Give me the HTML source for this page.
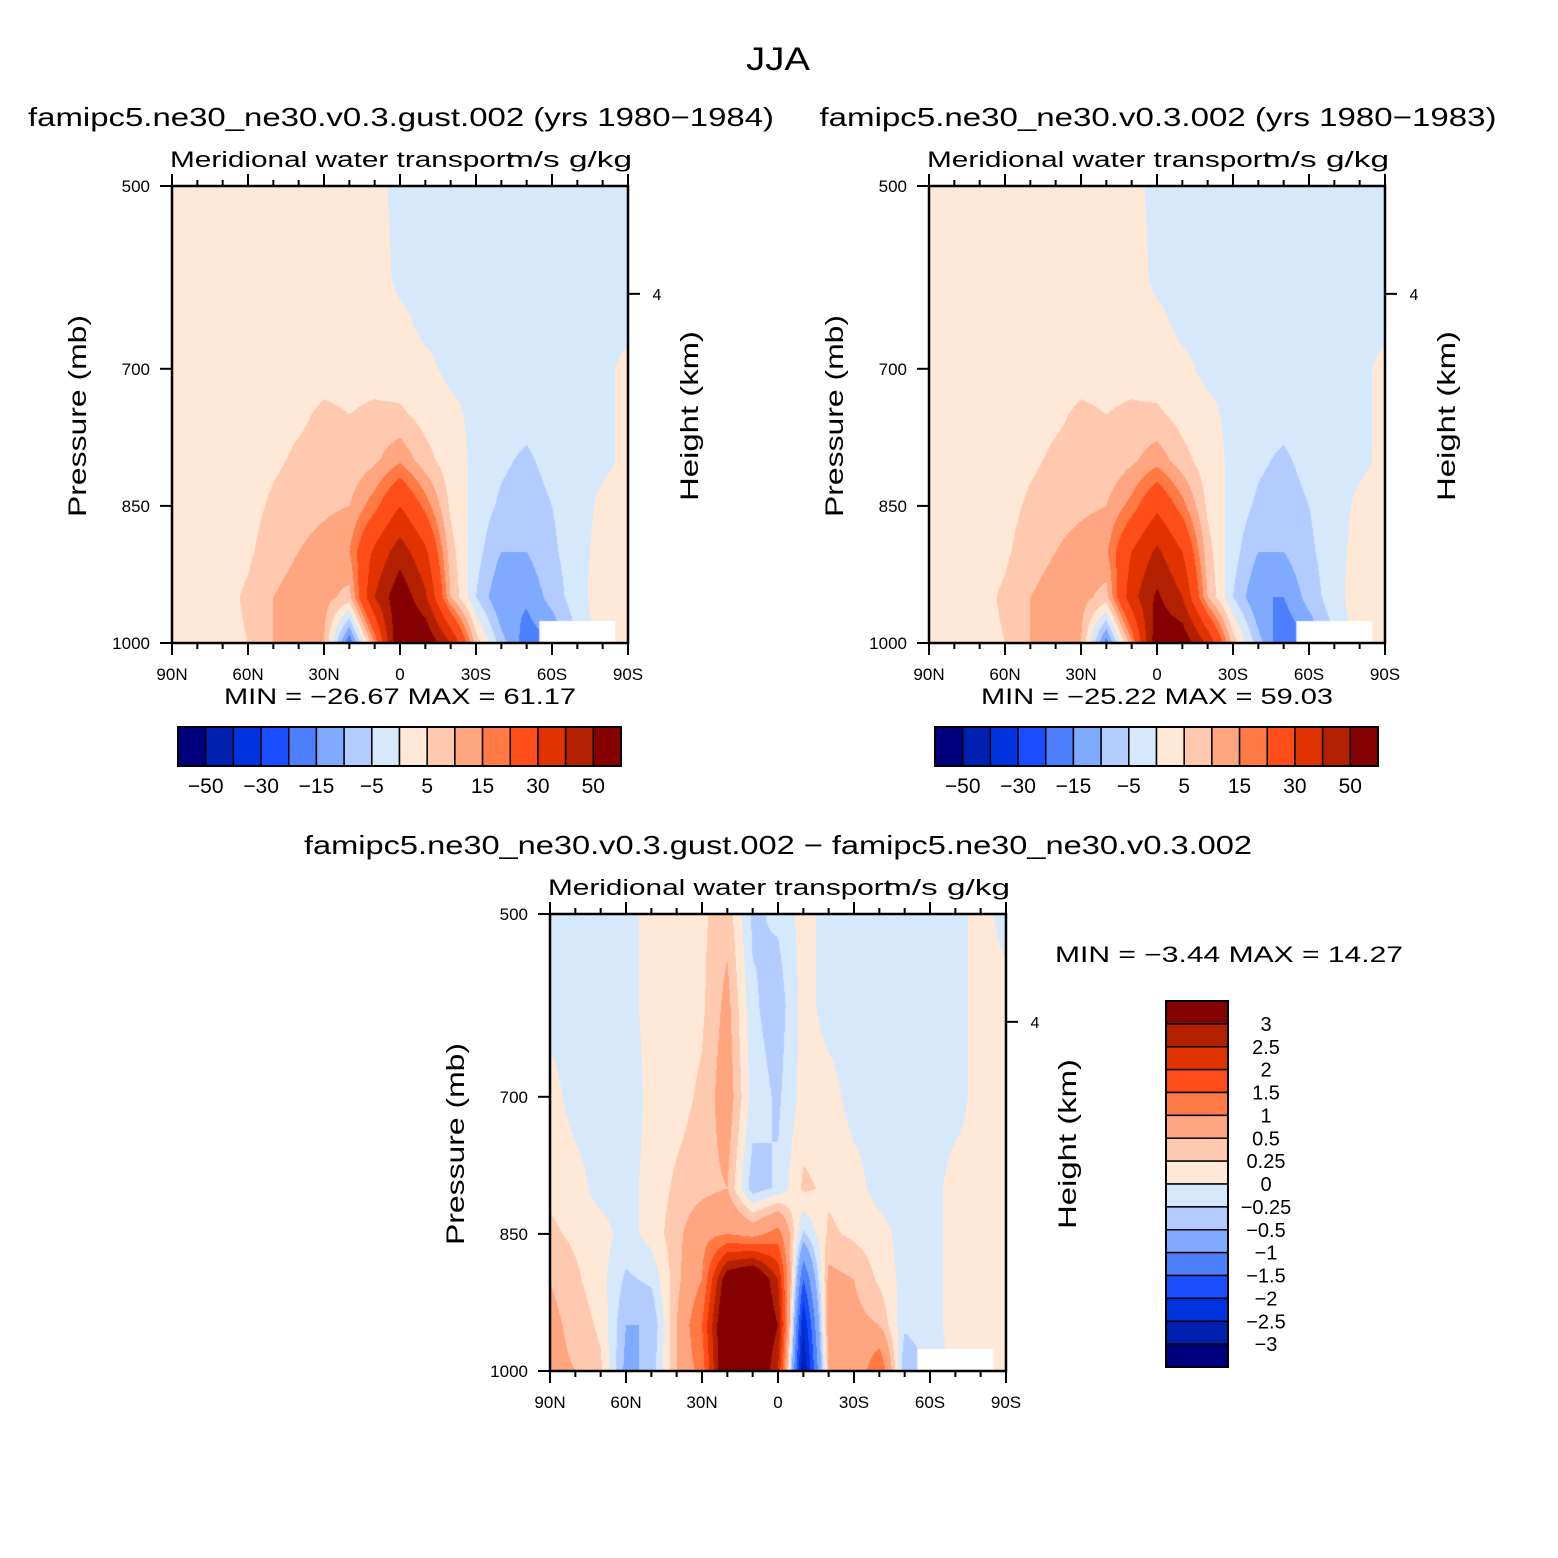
<!DOCTYPE html>
<html><head><meta charset="utf-8">
<style>
html,body{margin:0;padding:0;background:#fff;}
#wrap{position:relative;width:1558px;height:1558px;overflow:hidden;font-family:"Liberation Sans",sans-serif;}
canvas{position:absolute;}
svg{position:absolute;left:0;top:0;}
text{font-family:"Liberation Sans",sans-serif;fill:#000;}
</style></head>
<body>
<div id="wrap">
<canvas id="c1" width="456" height="457" style="left:172px;top:186px"></canvas>
<canvas id="c2" width="456" height="457" style="left:929px;top:186px"></canvas>
<canvas id="c3" width="456" height="457" style="left:550px;top:914px"></canvas>
<svg id="s" width="1558" height="1558"></svg>
</div>
<script>
// ---- data ----
const lats = [90,80,70,60,50,40,30,20,10,0,-10,-20,-30,-40,-50,-60,-70,-80,-90];
const levelsMain = [500,600,650,700,750,800,850,900,950,1000];
const gustValues = [
 [2,2,2,2,2,2,2,2,1,-1,-1,-1,-1,-1,-1,-1,-1,-1,-1],
 [2,2,2,2,2,2,2,2,2,-1,-1,-1,-1,-1,-1,-1,-1,-1,-1],
 [2,2,2,2,2,2,2,2,2,1,-1,-1,-1,-1,-1,-1,-1,-1,-1],
 [2,2,2,2,2,2,3,3,3,2,1,-1,-1,-1,-1,-1,-1,-1,1],
 [2,2,2,2,3,4,6,5,6,6,3,1,-1,-3,-3,-2,-1,-1,1],
 [2,2,2,2,4,6,7,6,9,14,7,2,-1,-4,-6,-3,-1,-1,1],
 [2,2,2,3,6,8,9,10,18,30,18,4,-2,-6,-8,-5,-2,1,2],
 [2,2,2,4,8,10,12,15,32,45,32,7,-3,-10,-10,-6,-2,2,3],
 [2,2,3,6,10,12,12,8,40,58,42,10,-5,-15,-14,-8,-2,3,3],
 [2,2,3,5,10,15,10,-20,15,62,60,40,8,-8,-18,-15,-5,3,3]
];
const ctrlValues = [
 [2,2,2,2,2,2,2,2,1,-1,-1,-1,-1,-1,-1,-1,-1,-1,-1],
 [2,2,2,2,2,2,2,2,2,-1,-1,-1,-1,-1,-1,-1,-1,-1,-1],
 [2,2,2,2,2,2,2,2,2,1,-1,-1,-1,-1,-1,-1,-1,-1,-1],
 [2,2,2,2,2,2,3,3,3,2,1,-1,-1,-1,-1,-1,-1,-1,1],
 [2,2,2,2,3,4,6,5,6,6,3,1,-1,-3,-3,-2,-1,-1,1],
 [2,2,2,2,4,6,7,6,9,13,7,2,-1,-4,-6,-3,-1,-1,1],
 [2,2,2,3,6,8,9,10,17,28,17,4,-2,-6,-8,-5,-2,1,2],
 [2,2,2,4,8,10,12,14,30,42,30,7,-3,-10,-10,-6,-2,2,3],
 [2,2,3,6,10,12,12,8,36,52,40,10,-5,-15,-15,-8,-2,3,3],
 [2,2,3,5,10,15,10,-18,14,58,58,38,8,-8,-20,-15,-5,3,3]
];
const levelsDiff = [500,600,700,800,850,900,950,1000];
const diffValues = [
 [-0.1,-0.1,-0.1,-0.1,0.1,0.1,0.2,0.4,-0.3,-0.2,0.1,-0.1,-0.1,-0.1,-0.1,-0.1,-0.1,0.1,-0.1],
 [-0.1,-0.1,-0.1,-0.1,0.1,0.1,0.2,0.6,-0.2,-0.4,0.1,-0.1,-0.1,-0.1,-0.1,-0.1,-0.1,0.1,0.1],
 [0.1,-0.1,-0.1,-0.2,0.1,0.15,0.3,0.7,-0.1,-0.3,0.1,0.1,-0.1,-0.1,-0.1,-0.1,-0.1,0.1,0.1],
 [0.2,0.1,-0.1,-0.1,0.1,0.3,0.4,0.5,-0.4,-0.2,0.3,0.2,0.1,-0.1,-0.1,-0.1,0.1,0.1,0.1],
 [0.3,0.2,0.1,-0.1,0.1,0.4,0.8,1.0,0.8,1.2,-0.3,0.3,0.2,0.1,-0.1,-0.1,0.1,0.1,0.1],
 [0.5,0.3,0.1,-0.3,-0.2,0.4,1.0,3.5,4,2.5,-1.5,0.6,0.5,0.2,-0.1,-0.1,0.1,0.1,0.1],
 [0.6,0.4,0.2,-0.5,-0.5,0.5,1.5,4,4,3,-2.5,0.7,0.6,0.5,-0.2,-0.1,0.1,0.1,0.1],
 [0.6,0.5,0.3,-0.6,-0.4,0.5,1.2,4,4,2.5,-3,0.5,0.5,1.5,-0.5,-0.2,0.1,0.1,0.1]
];
const contoursMain = [-50,-40,-30,-20,-15,-10,-5,0,5,10,15,20,30,40,50];
const contoursDiff = [-3,-2.5,-2,-1.5,-1,-0.5,-0.25,0,0.25,0.5,1,1.5,2,2.5,3];
const mainBarLabels = ["\u221250","\u221230","\u221215","\u22125","5","15","30","50"];
const diffBarLabels = ["3","2.5","2","1.5","1","0.5","0.25","0","\u22120.25","\u22120.5","\u22121","\u22121.5","\u22122","\u22122.5","\u22123"];
const xTickLabels = ["90N","60N","30N","0","30S","60S","90S"];
const yTickValues = [500,700,850,1000];
const palette = ["#00007f","#0020b0","#0033e0","#1a4dff","#4d80ff","#80aaff","#b3ccff","#d6e8fb","#ffe9d6","#ffc9b0","#ffa680","#ff7a45","#ff4d1a","#e03300","#b32000","#850000"];

// ---- axes ----
const W=456,H=457;
const xOf = lat => (90-lat)/180*W;
const yOf = p => (p-500)/500*H;
const latOf = x => 90 - x/W*180;
const pOf = y => 500 + y/H*500;

function sample(levels, vals, lat, p){
  let fi = (90-lat)/10; let i=Math.min(Math.floor(fi),lats.length-2); let tx=fi-i;
  let j=0; while(j<levels.length-2 && p>levels[j+1]) j++;
  let ty=(p-levels[j])/(levels[j+1]-levels[j]); ty=Math.max(0,Math.min(1,ty));
  const a=vals[j][i],b=vals[j][i+1],c=vals[j+1][i],d=vals[j+1][i+1];
  return (a*(1-tx)+b*tx)*(1-ty)+(c*(1-tx)+d*tx)*ty;
}
function hex(h){return [parseInt(h.substr(1,2),16),parseInt(h.substr(3,2),16),parseInt(h.substr(5,2),16)];}
const pal = palette.map(hex);
function drawField(id, levels, vals, cont){
  const cv=document.getElementById(id), ctx=cv.getContext('2d');
  const img=ctx.createImageData(W,H);
  for(let y=0;y<H;y++){const p=pOf(y+0.5);
    for(let x=0;x<W;x++){
      const v=sample(levels,vals,latOf(x+0.5),p);
      let k=0; while(k<cont.length && v>=cont[k]) k++;
      const c=pal[k], o=(y*W+x)*4;
      img.data[o]=c[0];img.data[o+1]=c[1];img.data[o+2]=c[2];img.data[o+3]=255;
    }}
  ctx.putImageData(img,0,0);
  ctx.fillStyle="#fff";
  ctx.fillRect(xOf(-55),yOf(976),xOf(-85)-xOf(-55),H-yOf(976));
}
drawField('c1',levelsMain,gustValues,contoursMain);
drawField('c2',levelsMain,ctrlValues,contoursMain);
drawField('c3',levelsDiff,diffValues,contoursDiff);

// ---- svg overlay ----
const NS="http://www.w3.org/2000/svg", svg=document.getElementById('s');
function el(tag,attrs,parent){const e=document.createElementNS(NS,tag);for(const k in attrs)e.setAttribute(k,attrs[k]);(parent||svg).appendChild(e);return e;}
function txt(s,x,y,size,anchor,parent,len){const a={x:x,y:y,'font-size':size,'text-anchor':anchor||'middle'};
  if(len){a.textLength=len;a.lengthAdjust='spacingAndGlyphs';}
  const t=el('text',a,parent);t.textContent=s;return t;}

const tt=txt("JJA",778,70,32,'middle',null,64);



function panel(name,ox,oy,title,tcx,tlen,minmax){
  const g=el('g',{});
  
  
  const t=txt(title,tcx,oy-60,26,'middle',g,tlen);
  
  
  const st=txt("Meridional water transport",ox-2,oy-19,22,'start',g,344);
  
  
  const un=txt("m/s g/kg",ox+W+4,oy-19,22,'end',g,126);
  
  
  el('rect',{x:ox,y:oy,width:W,height:H,fill:'none',stroke:'#000','stroke-width':2.5},g);
  for(let lat=90;lat>=-90;lat-=10){
    const x=ox+xOf(lat), maj=(lat%30===0), L=maj?12:6;
    el('line',{x1:x,y1:oy+H,x2:x,y2:oy+H+L,stroke:'#000','stroke-width':2},g);
    el('line',{x1:x,y1:oy,x2:x,y2:oy-L,stroke:'#000','stroke-width':2},g);
  }
  xTickLabels.forEach((s,i)=>{const l=txt(s,ox+xOf(90-30*i),oy+H+37,17,'middle',g);
    
    });
  yTickValues.forEach(p=>{const y=oy+yOf(p);
    el('line',{x1:ox-12,y1:y,x2:ox,y2:y,stroke:'#000','stroke-width':2},g);
    const l=txt(String(p),ox-22,y+6,17,'end',g);
    
    });
  const hy=oy+yOf(618);
  el('line',{x1:ox+W,y1:hy,x2:ox+W+12,y2:hy,stroke:'#000','stroke-width':2},g);
  txt("4",ox+W+29,hy+6,16,'middle',g);
  const yl=txt("Pressure (mb)",0,0,25,'middle',g,202);
  yl.setAttribute('transform',`translate(${ox-86},${oy+230}) rotate(-90)`);
  
  
  const hl=txt("Height (km)",0,0,25,'middle',g,170);
  hl.setAttribute('transform',`translate(${ox+W+70},${oy+230}) rotate(-90)`);
  
  
  if(minmax){const m=txt(minmax,ox+W/2,oy+H+61,22,'middle',g,352);
    
    }
}
panel('panel-gust',172,186,"famipc5.ne30_ne30.v0.3.gust.002 (yrs 1980\u22121984)",401,746,"MIN = \u221226.67   MAX =   61.17");
panel('panel-control',929,186,"famipc5.ne30_ne30.v0.3.002 (yrs 1980\u22121983)",1158,677,"MIN = \u221225.22   MAX =   59.03");
panel('panel-difference',550,914,"famipc5.ne30_ne30.v0.3.gust.002 \u2212 famipc5.ne30_ne30.v0.3.002",778,948,null);
const mm=txt("MIN =   \u22123.44   MAX =   14.27",1055,962,22,'start',null,348);



function hbar(name,x0,y0){
  const g=el('g',{});
  
  
  const bw=443/16;
  palette.forEach((c,i)=>{const r=el('rect',{x:x0+i*bw,y:y0,width:bw,height:39,fill:c,stroke:'#000','stroke-width':1.5},g);
    
    });
  el('rect',{x:x0,y:y0,width:443,height:39,fill:'none',stroke:'#000','stroke-width':2},g);
  mainBarLabels.forEach((s,i)=>{const l=txt(s,x0+(2*i+1)*bw,y0+66,21,'middle',g);
    
    });
}
hbar('colorbar-gust',178,727);
hbar('colorbar-control',935,727);

(function(){
  const g=el('g',{});
  
  
  const x0=1166,y0=1001,bh=366/16;
  palette.slice().reverse().forEach((c,i)=>{const r=el('rect',{x:x0,y:y0+i*bh,width:62,height:bh,fill:c,stroke:'#000','stroke-width':1.5},g);
    
    });
  el('rect',{x:x0,y:y0,width:62,height:366,fill:'none',stroke:'#000','stroke-width':2},g);
  diffBarLabels.forEach((s,i)=>{const l=txt(s,1266,y0+(i+1)*bh+7,20,'middle',g);
    
    });
})();
</script>
</body></html>
